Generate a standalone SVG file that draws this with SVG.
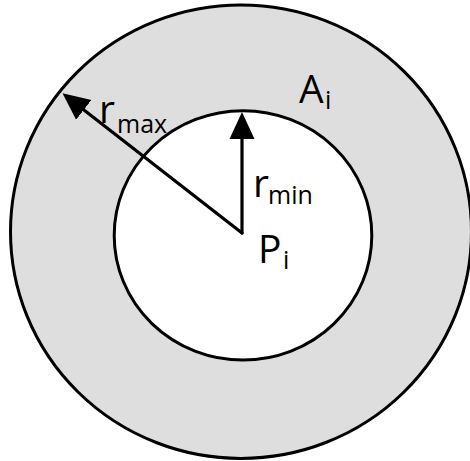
<svg xmlns="http://www.w3.org/2000/svg" width="470" height="461" viewBox="0 0 470 461">
<style>
.ring{stroke:#000;stroke-width:3}
.lbl{font-family:"Open Sans","Noto Sans",sans-serif;fill:#000}
.main{font-size:39px}
.sub{font-size:25px}
.arrow{fill:none;stroke:#000;stroke-width:3.2;stroke-linecap:round}
</style>
<defs>
<marker id="head" markerUnits="userSpaceOnUse" viewBox="0 -13 28 26" markerWidth="28" markerHeight="26" refX="1" refY="0" orient="auto">
<path d="M0,-12.5 L27,0 L0,12.5 Z" fill="#000"/>
</marker>
</defs>
<rect width="470" height="461" fill="#fff"/>
<g id="outer">
<ellipse class="ring" cx="241" cy="231.7" rx="230.5" ry="226.7" fill="#dedede"/>
</g>
<g id="inner">
<ellipse class="ring" cx="243" cy="235.4" rx="128.8" ry="124.7" fill="#fff"/>
</g>
<g id="connectors">
<path class="arrow" d="M242,233 L83,109.2" marker-end="url(#head)"/>
<path class="arrow" d="M242,233 L242,138" marker-end="url(#head)"/>
</g>
<g id="label-rmax">
<text class="lbl"><tspan class="main" x="99" y="123">r</tspan><tspan class="sub" x="117" y="133">max</tspan></text>
</g>
<g id="label-Ai">
<text class="lbl"><tspan class="main" x="299" y="103">A</tspan><tspan class="sub" x="325" y="109">i</tspan></text>
</g>
<g id="label-rmin">
<text class="lbl"><tspan class="main" x="253" y="197">r</tspan><tspan class="sub" x="268" y="204">min</tspan></text>
</g>
<g id="label-Pi">
<text class="lbl"><tspan class="main" x="258" y="263">P</tspan><tspan class="sub" x="283" y="269">i</tspan></text>
</g>
</svg>
